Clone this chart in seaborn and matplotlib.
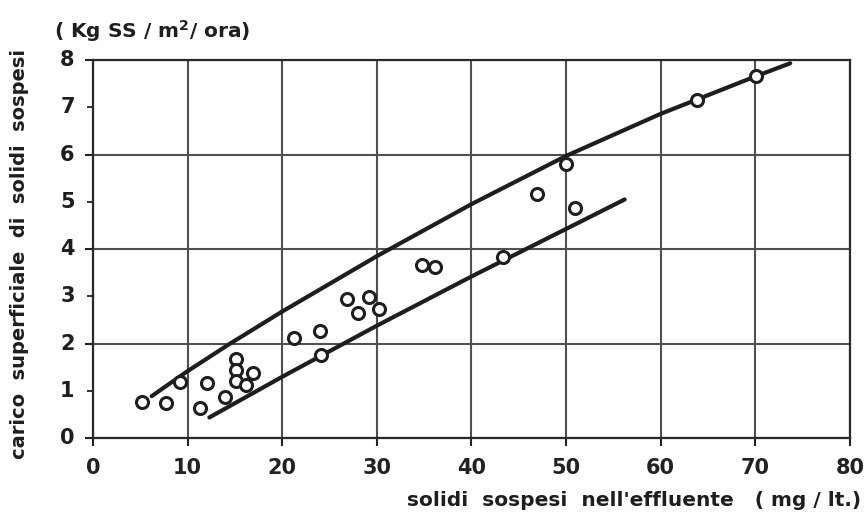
"""
Carico superficiale di solidi sospesi vs solidi sospesi nell'effluente
"""

import numpy as np
import pandas as pd
import matplotlib
matplotlib.use("Agg")
import matplotlib.pyplot as plt
import seaborn as sns

# ── Data ──────────────────────────────────────────────────
ss_effluente = [5.2, 7.7, 9.2, 11.3, 12.1, 14.0, 15.1, 15.1, 15.1, 16.2, 16.9,
                21.2, 24.0, 24.1, 26.9, 28.0, 29.2, 30.2, 34.8, 36.2,
                43.3, 46.9, 50.0, 50.9, 63.8, 70.1]
carico_ss    = [0.77, 0.74, 1.18, 0.63, 1.16, 0.88, 1.67, 1.44, 1.22, 1.13, 1.39,
                2.11, 2.27, 1.76, 2.94, 2.64, 2.99, 2.73, 3.66, 3.63,
                3.84, 5.16, 5.79, 4.86, 7.15, 7.66]

# upper envelope curve
upper_x = [6.2, 10, 14.4, 20, 30, 40, 50, 60, 70, 73.7]
upper_y = [0.89, 1.42, 1.99, 2.68, 3.85, 4.95, 5.97, 6.86, 7.65, 7.93]
# lower envelope curve
lower_x = [12.3, 20, 30, 40, 56.2]
lower_y = [0.44, 1.30, 2.38, 3.42, 5.05]

x_ticks = list(range(0, 81, 10))
y_ticks = list(range(0, 9, 1))

# ── Styling ───────────────────────────────────────────────
sns.set_style("white")
plt.rcParams.update({
    "font.family": "DejaVu Sans",
    "font.weight": "bold",
    "axes.edgecolor": "#222222",
    "text.color": "#222222",
    "xtick.color": "#222222",
    "ytick.color": "#222222",
})
INK = "#1e1e1e"
GRID = "#505050"

pts = pd.DataFrame({"x": ss_effluente, "y": carico_ss})
up = pd.DataFrame({"x": upper_x, "y": upper_y})
lo = pd.DataFrame({"x": lower_x, "y": lower_y})

fig = plt.figure(figsize=(8.64, 5.24), dpi=100)
ax = fig.add_axes([0.1076, 0.1636, 0.876, 0.722])

sns.lineplot(data=up, x="x", y="y", ax=ax, color=INK, linewidth=3, sort=False, zorder=3)
sns.lineplot(data=lo, x="x", y="y", ax=ax, color=INK, linewidth=3, sort=False, zorder=3)
sns.scatterplot(data=pts, x="x", y="y", ax=ax, s=75, marker="o",
                facecolor="white", edgecolor=INK, linewidth=2.2, zorder=4)

ax.set_xlim(0, 80)
ax.set_ylim(0, 8)
ax.set_xticks(x_ticks)
ax.set_yticks([0, 2, 4, 6, 8])
ax.set_yticks([1, 3, 5, 7], minor=True)
ax.set_yticklabels([])
ax.set_xticklabels([str(v) for v in x_ticks], fontsize=15, fontweight="bold")
for v in y_ticks:
    ax.text(-2.7, v, str(v), ha="center", va="center", fontsize=15,
            fontweight="bold", color=INK, clip_on=False)

ax.grid(True, which="major", color=GRID, linewidth=1.5)
ax.tick_params(axis="both", which="major", direction="out", length=6, width=1.5, pad=8)
ax.tick_params(axis="y", which="minor", direction="out", length=4, width=1.3, left=True)
ax.tick_params(axis="y", which="major", length=6, left=True)
ax.tick_params(axis="x", which="major", bottom=True)
for s in ax.spines.values():
    s.set_linewidth(1.6)
    s.set_color("#2a2a2a")

ax.set_xlabel("")
ax.set_ylabel("")
fig.text(0.022, 0.515, "carico  superficiale  di  solidi  sospesi", rotation=90,
         ha="center", va="center", fontsize=14, fontweight="bold", color=INK)
fig.text(0.062, 0.94, "( Kg SS / m$^{2}$/ ora)", ha="left", va="center",
         fontsize=14.5, fontweight="bold", color=INK)
fig.text(0.997, 0.045, "solidi  sospesi  nell'effluente   ( mg / lt.)", ha="right",
         va="center", fontsize=14.5, fontweight="bold", color=INK)

plt.savefig("out.png", dpi=100, facecolor="white")
plt.close()
